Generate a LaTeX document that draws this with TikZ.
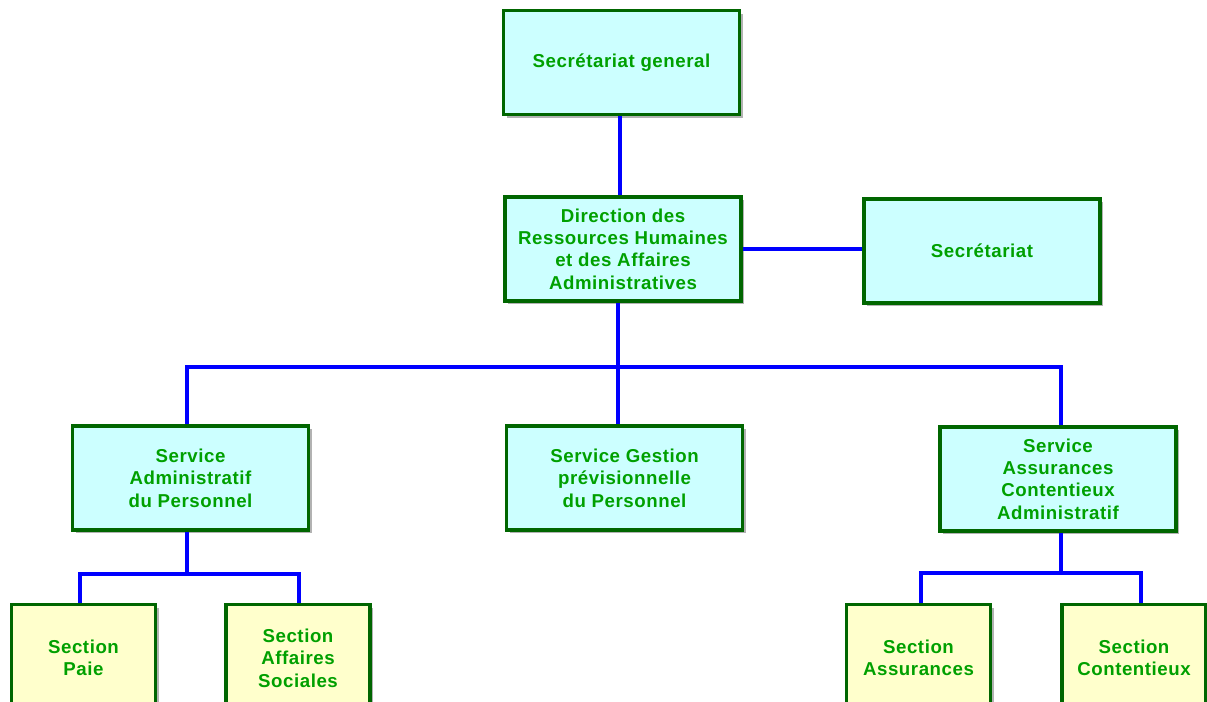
\documentclass[tikz,border=0pt]{standalone}
\usepackage{fontspec}
\setmainfont{Liberation Sans}
\usetikzlibrary{shadows}
\definecolor{boxgreen}{RGB}{0,102,0}
\definecolor{txtgreen}{RGB}{0,160,0}
\definecolor{cyanfill}{RGB}{204,255,255}
\definecolor{yellowfill}{RGB}{255,255,204}
\tikzset{
  orgbox/.style={draw=boxgreen, line width=2.4pt, fill=cyanfill, align=center,
    text=txtgreen, font=\fontsize{14}{16.8}\selectfont\bfseries\addfontfeature{LetterSpace=3},
    drop shadow={shadow xshift=2.5pt, shadow yshift=-2.5pt, fill=black, opacity=0.3},
    minimum width=177pt, minimum height=78pt, inner sep=2pt},
  secbox/.style={orgbox, fill=yellowfill, minimum width=108pt, minimum height=80pt},
  conn/.style={draw=blue, line width=2.3pt}
}
\begin{document}
\begin{tikzpicture}[x=0.75pt,y=-0.75pt]
\useasboundingbox (0,0) rectangle (1207,701);
\clip (0,0) rectangle (1207,701);
\fill[white] (0,0) rectangle (1207,701);
% nodes
\node[orgbox] (sg) at (621.5,62.5) {Secrétariat general};
\node[orgbox] (dir) at (623,249) {Direction des\\Ressources Humaines\\et des Affaires\\Administratives};
\node[orgbox] (sec) at (982,251) {Secrétariat};
\node[orgbox] (sap) at (190.5,478) {Service\\Administratif\\du Personnel};
\node[orgbox] (sgp) at (624.5,478) {Service Gestion\\prévisionnelle\\du Personnel};
\node[orgbox] (sac) at (1058,479) {Service\\Assurances\\Contentieux\\Administratif};
\node[secbox] (sp) at (83.5,658) {Section\\Paie};
\node[secbox] (saf) at (298,658) {Section\\Affaires\\Sociales};
\node[secbox] (sass) at (918.5,658) {Section\\Assurances};
\node[secbox] (scont) at (1134,658) {Section\\Contentieux};
% connectors
\draw[conn] (620,0 |- sg.south) -- (620,0 |- dir.north);
\draw[conn] (dir.east) -- (dir.east -| sec.west);
\draw[conn] (618,0 |- dir.south) -- (618,367);
\draw[conn] (187,0 |- sap.north) -- (187,367) -- (1061,367) -- (1061,0 |- sac.north);
\draw[conn] (618,367) -- (618,0 |- sgp.north);
\draw[conn] (187,0 |- sap.south) -- (187,574);
\draw[conn] (80,0 |- sp.north) -- (80,574) -- (299,574) -- (299,0 |- saf.north);
\draw[conn] (1061,0 |- sac.south) -- (1061,573);
\draw[conn] (921,0 |- sass.north) -- (921,573) -- (1141,573) -- (1141,0 |- scont.north);
\end{tikzpicture}
\end{document}
